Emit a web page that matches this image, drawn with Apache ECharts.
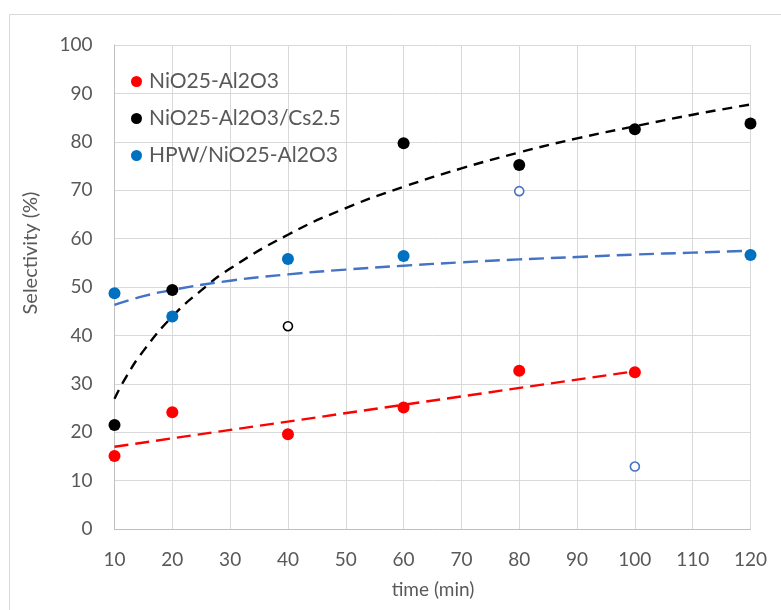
<!DOCTYPE html>
<html>
<head>
<meta charset="utf-8">
<script src="https://cdn.jsdelivr.net/npm/echarts@6/dist/echarts.min.js"></script>
<style>
  html, body { margin: 0; padding: 0; background: #fff; }
  #chart { width: 781px; height: 610px; }
</style>
</head>
<body>
<div id="chart"></div>
<script>
// Measured selectivity (%) versus time (min)
const niAl = [[10, 15.1], [20, 24.1], [40, 19.6], [60, 25.1], [80, 32.7], [100, 32.4]];
const niAlCs = [[10, 21.5], [20, 49.4], [60, 79.7], [80, 75.2], [100, 82.6], [120, 83.8]];
const hpw = [[10, 48.7], [20, 43.9], [40, 55.8], [60, 56.4], [120, 56.6]];

// Points left out of the fits (drawn hollow)
const niAlCsExcluded = [[40, 41.9]];
const hpwExcluded = [[80, 69.8], [100, 12.9]];

// Trend lines
const niAlTrend = [[10, 17.0], [100, 32.6]];
const niAlCsTrend = [[10, 26.9], [12, 31.4], [15, 36.8], [20, 43.9], [25, 49.3], [30, 53.8], [40, 60.8],
  [50, 66.3], [60, 70.7], [70, 74.5], [80, 77.8], [90, 80.7], [100, 83.2], [110, 85.6], [120, 87.7]];
const hpwTrend = [[10, 46.3], [15, 48.1], [20, 49.4], [30, 51.3], [40, 52.6], [50, 53.6], [60, 54.4],
  [70, 55.1], [80, 55.7], [90, 56.2], [100, 56.7], [110, 57.1], [120, 57.5]];

const seriesNames = ['NiO25-Al2O3', 'NiO25-Al2O3/Cs2.5', 'HPW/NiO25-Al2O3'];
const xTitle = 'time (min)';
const yTitle = 'Selectivity (%)';

const FONT = 'Lato';
const TEXT = '#595959';

const chart = echarts.init(document.getElementById('chart'), null, { renderer: 'canvas' });

function dots(name, data, color) {
  return {
    name, type: 'scatter', data, symbol: 'circle', symbolSize: 12,
    itemStyle: { color, opacity: 1 }, z: 5
  };
}
function hollow(name, data, color) {
  return {
    name, type: 'scatter', data, symbol: 'circle', symbolSize: 9,
    itemStyle: { color: '#fff', borderColor: color, borderWidth: 1.6, opacity: 1 }, z: 5
  };
}
function trend(name, data, color, dash, smooth) {
  return {
    name, type: 'line', data, symbol: 'none', smooth,
    lineStyle: { color, width: 2.4, type: dash }, z: 3, silent: true
  };
}

chart.setOption({
  animation: false,
  backgroundColor: '#fff',
  graphic: [
    { type: 'rect', shape: { x: 9.5, y: 14.5, width: 800, height: 620 },
      style: { fill: 'none', stroke: '#D9D9D9', lineWidth: 1 }, silent: true },
    { type: 'text', x: 31, y: 253, rotation: Math.PI / 2,
      style: { text: yTitle, fontFamily: FONT, fontSize: 20, fill: TEXT, align: 'center', verticalAlign: 'middle' } },
    { type: 'text', x: 433, y: 590,
      style: { text: xTitle, fontFamily: FONT, fontSize: 19, fill: TEXT, align: 'center', verticalAlign: 'middle' } }
  ],
  legend: {
    data: seriesNames,
    orient: 'vertical',
    left: 126, top: 66,
    itemWidth: 11, itemHeight: 11, itemGap: 16,
    icon: 'circle',
    textStyle: { fontFamily: FONT, fontSize: 21, color: TEXT, padding: [0, 0, 0, 2] }
  },
  grid: { left: 114.5, right: 30.5, top: 45, bottom: 81, containLabel: false },
  xAxis: {
    type: 'value', min: 10, max: 120, interval: 10,
    axisLine: { show: true, lineStyle: { color: '#BFBFBF', width: 1 } },
    axisTick: { show: false },
    splitLine: { show: true, lineStyle: { color: '#D9D9D9', width: 1 } },
    axisLabel: { fontFamily: FONT, fontSize: 19, color: TEXT, margin: 21 }
  },
  yAxis: {
    type: 'value', min: 0, max: 100, interval: 10,
    axisLine: { show: true, lineStyle: { color: '#BFBFBF', width: 1 } },
    axisTick: { show: false },
    splitLine: { show: true, lineStyle: { color: '#D9D9D9', width: 1 } },
    axisLabel: { fontFamily: FONT, fontSize: 19, color: TEXT, margin: 22 }
  },
  series: [
    trend('NiO25-Al2O3 trend', niAlTrend, '#FF0000', [14, 7], false),
    trend('NiO25-Al2O3/Cs2.5 trend', niAlCsTrend, '#000000', [10, 7], true),
    trend('HPW/NiO25-Al2O3 trend', hpwTrend, '#4472C4', [15, 7], true),
    dots(seriesNames[0], niAl, '#FF0000'),
    dots(seriesNames[1], niAlCs, '#000000'),
    dots(seriesNames[2], hpw, '#0070C0'),
    hollow('NiO25-Al2O3/Cs2.5 excluded', niAlCsExcluded, '#000000'),
    hollow('HPW/NiO25-Al2O3 excluded', hpwExcluded, '#4472C4')
  ]
});
</script>
</body>
</html>
